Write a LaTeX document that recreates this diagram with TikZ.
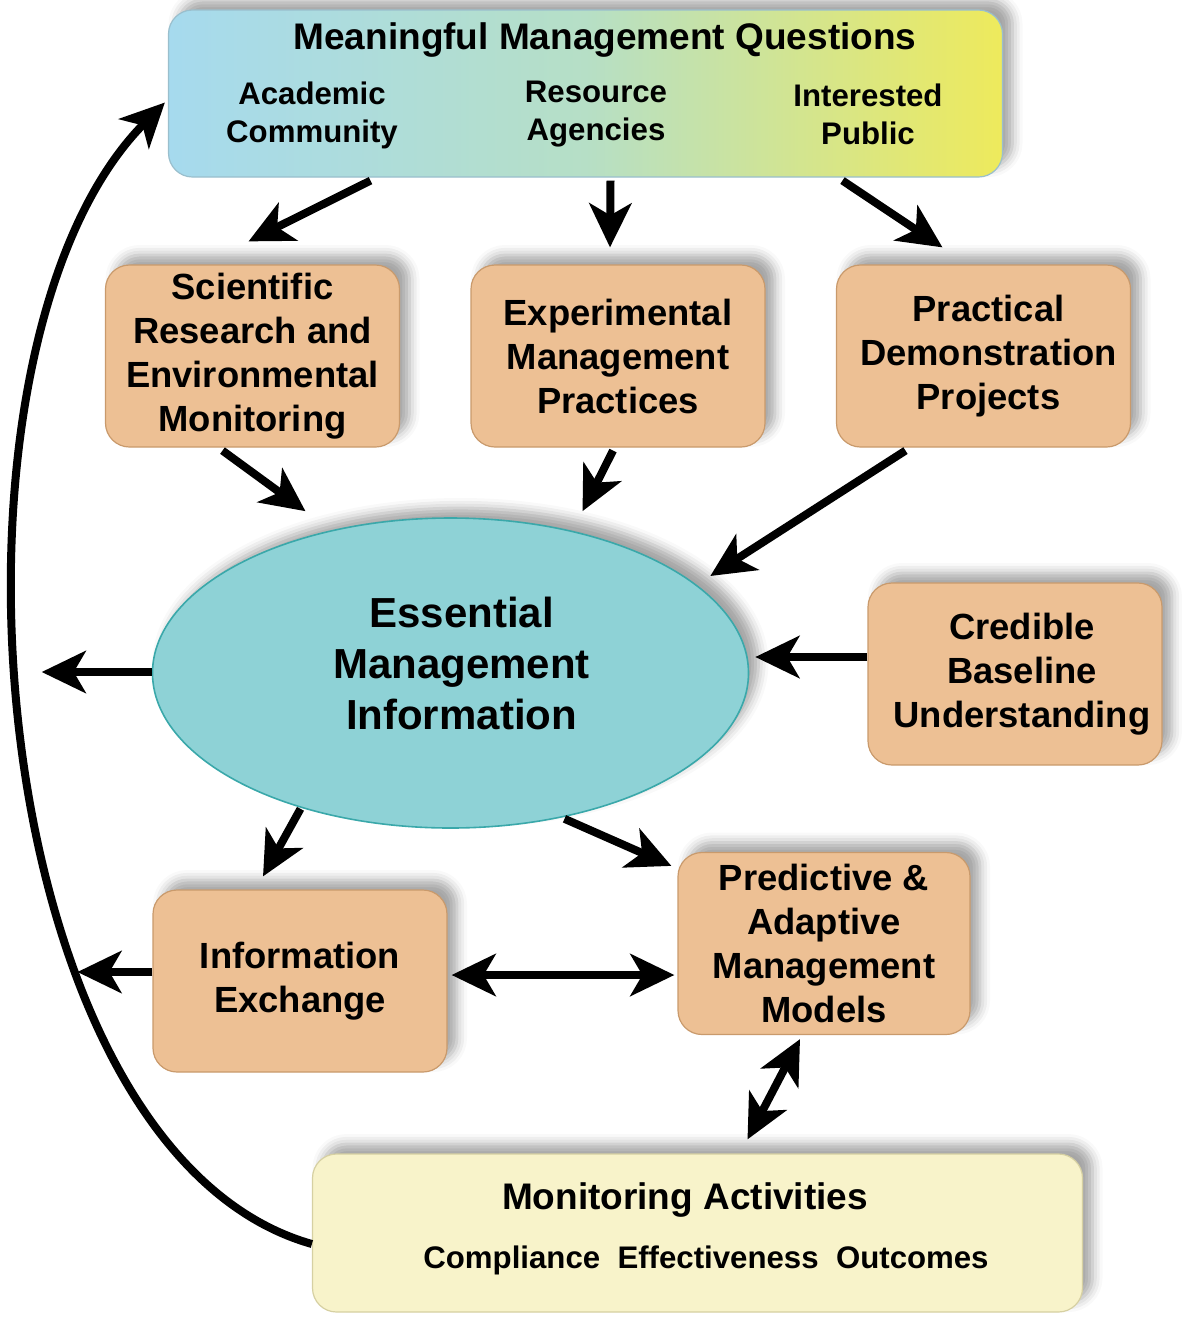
\documentclass[tikz,border=0pt]{standalone}
\usepackage{fontspec}
\setmainfont{Liberation Sans}
\usetikzlibrary{shapes.geometric, arrows.meta, calc, shadows.blur}
\usepackage{xcolor}
\definecolor{MgmtTan}{HTML}{EDC094}
\definecolor{MgmtTanEdge}{HTML}{C99A6C}
\definecolor{MgmtTeal}{HTML}{8ED2D6}
\definecolor{MgmtTealEdge}{HTML}{3AA8AA}
\definecolor{MgmtSky}{HTML}{A6DAEE}
\definecolor{MgmtMint}{HTML}{B6DFC6}
\definecolor{MgmtLemon}{HTML}{EEEA5C}
\definecolor{MgmtCream}{HTML}{F8F3CA}
\definecolor{MgmtCreamEdge}{HTML}{D6D0A2}
\tikzset{
    % Box styles - rounded corners, soft shadow up and right
    softshadow/.style={
        blur shadow={shadow xshift=5pt, shadow yshift=5pt, shadow blur radius=5pt, shadow opacity=35}
    },
    actionbox/.style={
        rectangle,
        rounded corners=12pt,
        draw=MgmtTanEdge,
        fill=MgmtTan,
        line width=0.6pt,
        minimum width=147pt,
        minimum height=91pt,
        inner sep=0pt,
        align=center,
        font=\fontsize{18.2}{22}\selectfont\bfseries,
        softshadow
    },
    questionbox/.style={
        rectangle,
        rounded corners=12pt,
        draw=MgmtSky!70!gray,
        left color=MgmtSky,
        right color=MgmtLemon,
        middle color=MgmtMint,
        line width=0.6pt,
        minimum width=417pt,
        minimum height=83.5pt,
        softshadow
    },
    monitorbox/.style={
        rectangle,
        rounded corners=12pt,
        draw=MgmtCreamEdge,
        fill=MgmtCream,
        line width=0.6pt,
        minimum width=385pt,
        minimum height=79pt,
        softshadow
    },
    infoellipse/.style={
        ellipse,
        draw=MgmtTealEdge,
        fill=MgmtTeal,
        line width=0.8pt,
        minimum width=298pt,
        minimum height=155pt,
        inner sep=0pt,
        align=center,
        font=\fontsize{21}{25.5}\selectfont\bfseries,
        softshadow
    },
    headtext/.style={font=\fontsize{18.5}{22}\selectfont\bfseries, inner sep=0pt},
    subtext/.style={font=\fontsize{15.6}{19}\selectfont\bfseries, align=center, inner sep=0pt},
    % Arrow styles
    arrow/.style={
        -{Stealth[length=22pt, width=21pt, inset=6pt]},
        line width=4pt,
        draw=black
    },
    twoarrow/.style={
        {Stealth[length=22pt, width=21pt, inset=6pt]}-{Stealth[length=22pt, width=21pt, inset=6pt]},
        line width=4pt,
        draw=black
    }
}

\begin{document}
\begin{tikzpicture}[x=0.5pt, y=-0.5pt]
    \useasboundingbox (0,0) rectangle (1182,1318);

    % Questions box
    \node[questionbox] (mmq) at (585.5,93.5) {};
    \node[headtext] (mmqtitle) at (605,40) {Meaningful Management Questions};
    \node[subtext] (acad) at (312,115) {Academic\\Community};
    \node[subtext] (resag) at (596,114) {Resource\\Agencies};
    \node[subtext] (intpub) at (868,114) {Interested\\Public};

    % Second row
    \node[actionbox] (sci) at (252.5,356) {Scientific\\Research and\\Environmental\\Monitoring};
    \node[actionbox] (exp) at (618,356) {Experimental\\Management\\Practices};
    \node[actionbox] (prac) at (983.5,356) {\hspace*{5pt}Practical\\\hspace*{5pt}Demonstration\\\hspace*{5pt}Projects};

    % Centre
    \node[infoellipse] (emi) at (450.5,673) {\hspace*{11pt}Essential\\\hspace*{11pt}Management\\\hspace*{11pt}Information\\[-16pt]};
    \node[actionbox] (cbu) at (1015,674) {\hspace*{7pt}Credible\\\hspace*{7pt}Baseline\\\hspace*{7pt}Understanding};

    % Lower row
    \node[actionbox] (iex) at (300,981) {Information\\Exchange};
    \node[actionbox, minimum width=146pt] (pamm) at (824,943.5) {Predictive \&\\Adaptive\\Management\\Models};

    % Monitoring box
    \node[monitorbox] (mon) at (697.5,1233) {};
    \node[headtext] (montitle) at (685,1200) {Monitoring Activities};
    \node[subtext] (monsub) at (706,1260) {Compliance\ \ Effectiveness\ \ Outcomes};

    % Arrows
    \draw[arrow] ($(mmq.south)+(-215,3)$) -- ($(sci.north)+(-4,-23)$);
    \draw[arrow] ($(mmq.south)+(25,3)$) -- ($(exp.north)+(-8,-17)$);
    \draw[arrow] ($(mmq.south)+(257,3)$) -- ($(prac.north)+(-41,-17)$);
    \draw[arrow] ($(sci.south)+(-30,3)$) -- ($(emi.north)+(-145,-6)$);
    \draw[arrow] ($(exp.south)+(-5,3)$) -- ($(emi.north)+(132,-6)$);
    \draw[arrow] ($(prac.south)+(-78,3)$) -- ($(emi.east)+(-39,-97)$);
    \draw[arrow] ($(cbu.west)+(0,-17)$) -- ($(emi.east)+(6,-16)$);
    \draw[arrow] ($(emi.west)+(0,-1)$) -- ($(emi.west)+(-110,-1)$);
    \draw[arrow] ($(emi.south)+(-150,-20)$) -- ($(iex.north)+(-37,-13)$);
    \draw[arrow] ($(emi.south)+(114,-10)$) -- ($(pamm.north west)+(-6,14)$);
    \draw[arrow] ($(iex.west)+(0,-9)$) -- ($(iex.west)+(-75,-9)$);
    \draw[twoarrow] ($(iex.east)+(4,-6)$) -- ($(pamm.west)+(-3,31.5)$);
    \draw[twoarrow] ($(pamm.south)+(-24,4)$) -- ($(mon.north)+(50,-14)$);

    % Feedback loop
    \draw[arrow] ($(mon.west)+(0,11)$) .. controls (-20,1150) and (-80,350) .. ($(mmq.west)+(-3,9)$);
\end{tikzpicture}
\end{document}
